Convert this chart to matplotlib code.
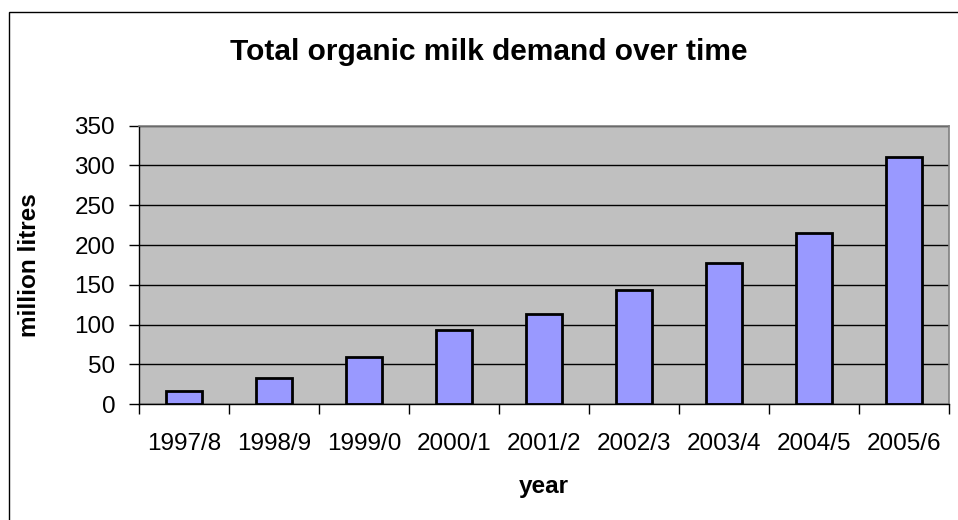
import matplotlib.pyplot as plt
from matplotlib.patches import Rectangle

plt.rcParams['font.family'] = ['Liberation Sans', 'DejaVu Sans']

years = ['1997/8', '1998/9', '1999/0', '2000/1', '2001/2', '2002/3', '2003/4', '2004/5', '2005/6']
demand = [17, 33, 59, 93, 113, 144, 177, 215, 311]

fig = plt.figure(figsize=(9.58, 5.2), dpi=100)
ax = fig.add_axes([0.1456, 0.2225, 0.9903 - 0.1456, 0.7583 - 0.2225])

# outer chart frame (cut off at right and bottom like the original)
fig.patches.append(Rectangle((8.5 / 958, -0.1), 1.2, 1 - 11.5 / 520 + 0.1,
                             transform=fig.transFigure, fill=False,
                             edgecolor='black', linewidth=1.0))

x = range(len(years))
ax.set_facecolor('#C0C0C0')
ax.bar(x, demand, width=0.4, color='#9999FF', edgecolor='black', linewidth=2.0, zorder=3)

ax.set_xlim(-0.5, len(years) - 0.5)
ax.set_ylim(0, 350)
ax.set_yticks(range(0, 351, 50))
ax.yaxis.grid(True, color='black', linewidth=1.0, zorder=1)
ax.set_axisbelow(True)

ax.set_xticks([i - 0.5 for i in range(len(years) + 1)], minor=False)
ax.set_xticklabels([])
ax.set_xticks(list(x), minor=True)
ax.set_xticklabels(years, minor=True)
ax.tick_params(axis='x', which='major', length=7, width=1, direction='out')
ax.tick_params(axis='x', which='minor', length=0, pad=21, labelsize=17.5)
ax.tick_params(axis='y', length=7.5, width=1, direction='out', pad=10, labelsize=17.5)

for side in ['top', 'right']:
    ax.spines[side].set_color('#808080')
    ax.spines[side].set_linewidth(1.2)
for side in ['left', 'bottom']:
    ax.spines[side].set_color('black')
    ax.spines[side].set_linewidth(1.0)

fig.text(489 / 958, 1 - 52 / 520, 'Total organic milk demand over time',
         ha='center', va='center', fontsize=21.5, fontweight='bold')
fig.text(544 / 958, 1 - 487 / 520, 'year', ha='center', va='center',
         fontsize=17.5, fontweight='bold')
fig.text(30 / 958, 1 - 265 / 520, 'million litres', ha='center', va='center',
         rotation=90, fontsize=17.5, fontweight='bold')

fig.savefig('out.png', dpi=100)
